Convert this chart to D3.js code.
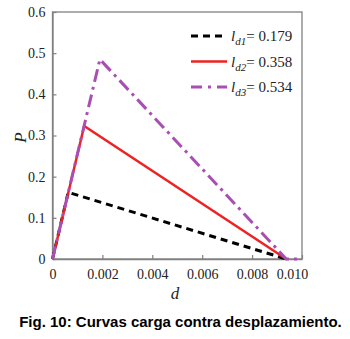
<!DOCTYPE html>
<html>
<head>
<meta charset="utf-8">
<script src="https://cdn.jsdelivr.net/npm/d3@7"></script>
<style>
  body { margin: 0; background: #fff; }
  .serif { font-family: 'Liberation Serif', 'Times New Roman', serif; }
</style>
</head>
<body>
<div id="chart"></div>
<script>
// curves: d (displacement) vs P (load)
const series = ['ld1', 'ld2', 'ld3'];
const legendValues = ['0.179', '0.358', '0.534'];
const dValues = [
  [0, 0.00063, 0.00937],
  [0, 0.00127, 0.00937],
  [0, 0.0019, 0.00937, 0.010]
];
const pValues = [
  [0, 0.162, 0],
  [0, 0.323, 0],
  [0, 0.485, 0, 0]
];
const xTicks = [0, 0.002, 0.004, 0.006, 0.008, 0.010];
const yTicks = [0, 0.1, 0.2, 0.3, 0.4, 0.5, 0.6];

const W = 350, H = 339;
const margin = {top: 12, right: 48, bottom: 80, left: 52.5};

const svg = d3.select('#chart')
              .append('svg')
              .attr('width', W)
              .attr('height', H);

const x = d3.scaleLinear()
            .domain([0, 0.010])
            .range([margin.left, W - margin.right]);

const y = d3.scaleLinear()
            .domain([0, 0.6])
            .range([H - margin.bottom, margin.top]);

const axisColor = '#808080';

// frame
svg.append('rect')
   .attr('x', x(0))
   .attr('y', y(0.6))
   .attr('width', x(0.010) - x(0))
   .attr('height', y(0) - y(0.6))
   .attr('fill', 'none')
   .attr('stroke', axisColor)
   .attr('stroke-width', 1.3);

const xAxis = svg.append('g')
   .attr('transform', `translate(0,${y(0)})`)
   .call(d3.axisBottom(x).tickValues(xTicks).tickSizeInner(-4).tickSizeOuter(0)
           .tickPadding(10).tickFormat(d => d === 0 ? '0' : d3.format('.3f')(d)));

const yAxis = svg.append('g')
   .attr('transform', `translate(${x(0)},0)`)
   .call(d3.axisLeft(y).tickValues(yTicks).tickSizeInner(-4).tickSizeOuter(0)
           .tickPadding(7).tickFormat(d => d === 0 ? '0' : d3.format('.1f')(d)));

[xAxis, yAxis].forEach(a => {
  a.attr('font-family', null);
  a.select('.domain').attr('stroke', axisColor).attr('stroke-width', 1.3);
  a.selectAll('.tick line').attr('stroke', axisColor).attr('stroke-width', 1.2);
  a.selectAll('.tick text')
   .attr('class', 'serif')
   .attr('fill', '#222')
   .style('font-size', '14px');
});
// last x label pulled in to end at the frame
xAxis.selectAll('.tick text').filter(d => d === 0.010).attr('dx', '-10');

const styles = [
  {color: '#000000', width: 3, dash: '7,5'},
  {color: '#ee2222', width: 2.5, dash: null},
  {color: '#a94fb3', width: 3, dash: '13,5,3,5'}
];

const line = d3.line()
               .x(d => x(d[0]))
               .y(d => y(d[1]));

series.forEach((s, i) => {
  const pts = dValues[i].map((d, j) => [d, pValues[i][j]]);
  svg.append('path')
     .datum(pts)
     .attr('d', line)
     .attr('fill', 'none')
     .attr('stroke', styles[i].color)
     .attr('stroke-width', styles[i].width)
     .attr('stroke-dasharray', styles[i].dash);
});

// legend
const legend = svg.append('g');
series.forEach((s, i) => {
  const ly = 36 + i * 25.5;
  legend.append('line')
        .attr('x1', 191).attr('x2', 227)
        .attr('y1', ly).attr('y2', ly)
        .attr('stroke', styles[i].color)
        .attr('stroke-width', styles[i].width)
        .attr('stroke-dasharray', i === 0 ? '7,5' : (i === 2 ? '11,6,3,6' : null));
  const t = legend.append('text')
        .attr('class', 'serif')
        .attr('x', 231).attr('y', ly + 5)
        .style('font-size', '15px')
        .attr('fill', '#222');
  t.append('tspan').style('font-style', 'italic').text('l');
  t.append('tspan').style('font-style', 'italic').style('font-size', '11px')
   .attr('dy', 4).text('d' + (i + 1));
  t.append('tspan').attr('dy', -4).text('= ' + legendValues[i]);
});

// axis titles
svg.append('text')
   .attr('class', 'serif')
   .attr('transform', `translate(26,${(y(0) + y(0.6)) / 2 + 2}) rotate(-90)`)
   .attr('text-anchor', 'middle')
   .style('font-style', 'italic')
   .style('font-size', '17px')
   .attr('fill', '#222')
   .text('P');

svg.append('text')
   .attr('class', 'serif')
   .attr('x', 175)
   .attr('y', 299)
   .attr('text-anchor', 'middle')
   .style('font-style', 'italic')
   .style('font-size', '17px')
   .attr('fill', '#222')
   .text('d');

// caption
svg.append('text')
   .attr('x', 180.5)
   .attr('y', 327)
   .attr('text-anchor', 'middle')
   .style('font-family', "'Liberation Sans', Arial, sans-serif")
   .style('font-weight', 'bold')
   .style('font-size', '15px')
   .attr('fill', '#000')
   .text('Fig. 10: Curvas carga contra desplazamiento.');
</script>
</body>
</html>
